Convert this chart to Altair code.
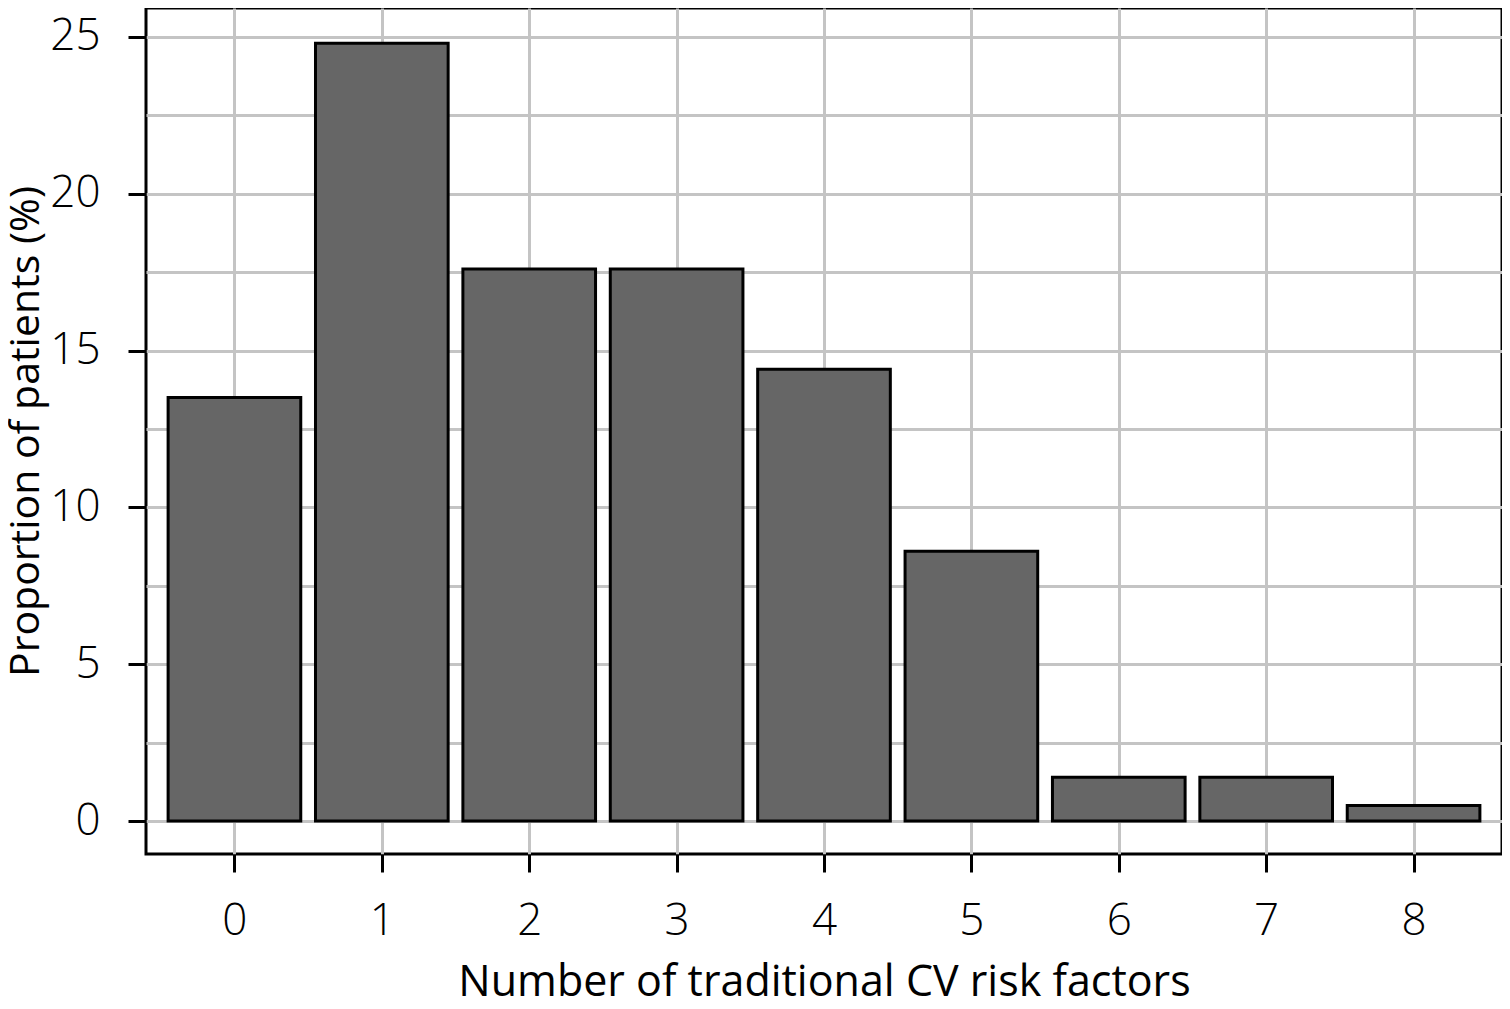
import altair as alt
import pandas as pd

factors = [0, 1, 2, 3, 4, 5, 6, 7, 8]
proportion = [13.5, 24.8, 17.6, 17.6, 14.4, 8.6, 1.4, 1.4, 0.5]
x_ticks = [0, 1, 2, 3, 4, 5, 6, 7, 8]
y_ticks = [0, 2.5, 5, 7.5, 10, 12.5, 15, 17.5, 20, 22.5, 25]

df = pd.DataFrame({"factors": factors, "proportion": proportion})

FONT = "Open Sans"

chart = (
    alt.Chart(df)
    .transform_calculate(lo="datum.factors - 0.45", hi="datum.factors + 0.45")
    .mark_bar(color="#666666", stroke="black", strokeWidth=3)
    .encode(
        x=alt.X(
            "lo:Q",
            scale=alt.Scale(domain=[-0.6, 8.6], nice=False, zero=False),
            axis=alt.Axis(
                values=x_ticks,
                title="Number of traditional CV risk factors",
                format="d",
                labelPadding=27,
                titlePadding=18,
            ),
        ),
        x2="hi:Q",
        y=alt.Y(
            "proportion:Q",
            scale=alt.Scale(domain=[-1.05, 25.92], nice=False, zero=False),
            axis=alt.Axis(
                values=y_ticks,
                title="Proportion of patients (%)",
                labelExpr="datum.value % 5 === 0 ? datum.label : ''",
                tickOpacity={"condition": {"test": "datum.value % 5 === 0", "value": 1}, "value": 0},
                labelPadding=28,
                titlePadding=2,
                titleFontSize=41,
            ),
        ),
        y2=alt.datum(0),
    )
    .properties(
        width=1356,
        height=846,
        background="white",
        autosize=alt.AutoSizeParams(type="none"),
        padding={"left": 138, "top": 0, "right": 0, "bottom": 147},
    )
    .configure_view(stroke="black", strokeWidth=3, fill="white")
    .configure_axis(
        grid=True,
        gridColor="#c4c4c4",
        gridWidth=3,
        domain=False,
        tickColor="black",
        tickWidth=3,
        tickSize=18,
        labelFont=FONT,
        labelFontWeight=300,
        labelFontSize=44,
        labelColor="black",
        titleFont=FONT,
        titleFontWeight="normal",
        titleFontSize=43,
        titleColor="black",
    )
)

chart.save("out.html", embed_options={"renderer": "svg", "actions": False})
